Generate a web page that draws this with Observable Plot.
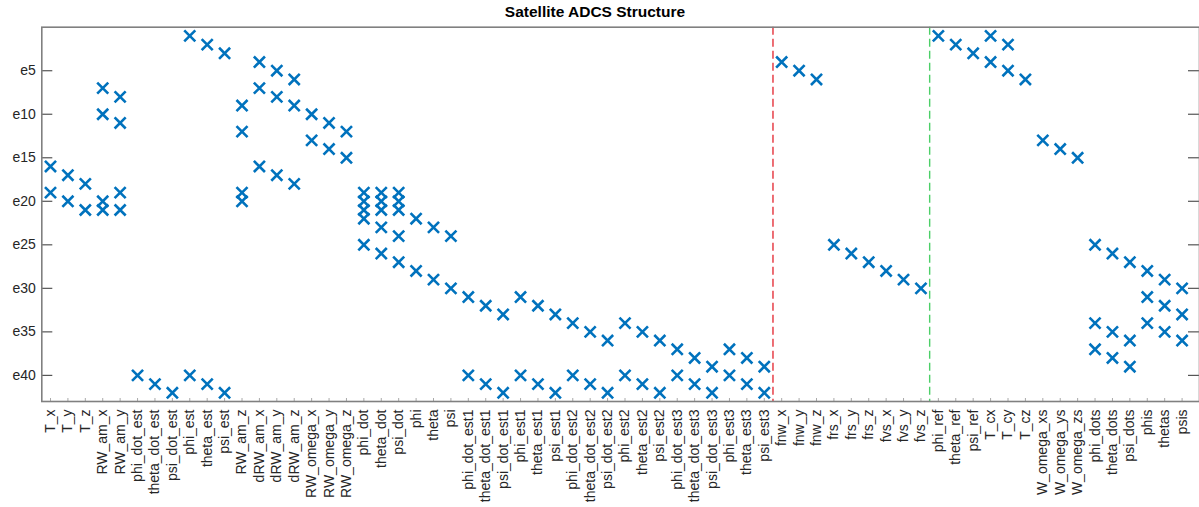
<!DOCTYPE html>
<html><head><meta charset="utf-8">
<script src="https://cdn.jsdelivr.net/npm/d3@7"></script>
<script src="https://cdn.jsdelivr.net/npm/@observablehq/plot@0.6"></script>
<style>
html,body{margin:0;padding:0;background:#fff;}
body{width:1199px;height:507px;overflow:hidden;font-family:"Liberation Sans",Arial,sans-serif;}
#title{width:1190px;height:22px;line-height:24px;font-weight:bold;font-size:15.5px;color:#000;text-align:center;}
#chart svg{display:block;}
</style></head><body>
<div id="title">Satellite ADCS Structure</div>
<div id="chart"></div>
<script>
// variables (columns) of the structural incidence matrix
const variables = ["T_x","T_y","T_z","RW_am_x","RW_am_y","phi_dot_est","theta_dot_est","psi_dot_est","phi_est","theta_est","psi_est","RW_am_z","dRW_am_x","dRW_am_y","dRW_am_z","RW_omega_x","RW_omega_y","RW_omega_z","phi_dot","theta_dot","psi_dot","phi","theta","psi","phi_dot_est1","theta_dot_est1","psi_dot_est1","phi_est1","theta_est1","psi_est1","phi_dot_est2","theta_dot_est2","psi_dot_est2","phi_est2","theta_est2","psi_est2","phi_dot_est3","theta_dot_est3","psi_dot_est3","phi_est3","theta_est3","psi_est3","fnw_x","fnw_y","fnw_z","frs_x","frs_y","frs_z","fvs_x","fvs_y","fvs_z","phi_ref","theta_ref","psi_ref","T_cx","T_cy","T_cz","W_omega_xs","W_omega_ys","W_omega_zs","phi_dots","theta_dots","psi_dots","phis","thetas","psis"];
// equations in which each variable appears (one list per variable)
const equationsByVariable = [
  [16,19],[17,20],[18,21],[7,10,20,21],[8,11,19,21],
  [40],[41],[42],[1,40],[2,41],[3,42],
  [9,12,19,20],[4,7,16],[5,8,17],[6,9,18],
  [10,13],[11,14],[12,15],
  [19,20,21,22,25],[19,20,21,23,26],[19,20,21,24,27],
  [22,28],[23,29],[24,30],
  [31,40],[32,41],[33,42],[31,40],[32,41],[33,42],
  [34,40],[35,41],[36,42],[34,40],[35,41],[36,42],
  [37,40],[38,41],[39,42],[37,40],[38,41],[39,42],
  [4],[5],[6],[25],[26],[27],[28],[29],[30],
  [1],[2],[3],[1,4],[2,5],[6],
  [13],[14],[15],
  [25,34,37],[26,35,38],[27,36,39],[28,31,34],[29,32,35],[30,33,36]
];
// group sizes: unknown, fault, known variables
const groupSizes = [42, 9, 15];
const groupColors = ["#e5323b", "#4ccf68"];
const equationCount = 42;
const yTickValues = [5,10,15,20,25,30,35,40];
const yTickLabels = ["e5","e10","e15","e20","e25","e30","e35","e40"];

const points = [];
equationsByVariable.forEach((eqs, i) => eqs.forEach(e => points.push({col: i + 1, row: e, name: variables[i]})));
const colIdx = d3.range(1, variables.length + 1);
const breaks = [];
let acc = 0;
groupSizes.slice(0, -1).forEach((s, i) => { acc += s; breaks.push({x: acc + 0.5, c: groupColors[i]}); });

const W = 1199, H = 485;
const mL = 41.3, mR = 0, mT = 4.7, mB = 106;
const plotW = W - mL - mR, plotH = H - mT - mB;

const chart = Plot.plot({
  width: W, height: H,
  marginLeft: mL, marginRight: mR, marginTop: mT, marginBottom: mB,
  style: {fontFamily: "'Liberation Sans', Arial, sans-serif", fontSize: "14px", color: "#262626", background: "#fff", overflow: "visible"},
  x: {type: "linear", domain: [0.5, variables.length + 1], axis: null, label: null},
  y: {type: "linear", domain: [0, equationCount + 1], reverse: true, axis: null, label: null},
  marks: [
    Plot.ruleX(breaks, {x: "x", stroke: "c", strokeWidth: 1.4, strokeDasharray: "8,4"}),
    Plot.dot(points, {x: "col", y: "row", symbol: "times", r: 5.1, stroke: "#0072BD", strokeWidth: 2.6}),
    Plot.ruleY(yTickValues, {y: d => d, insetRight: plotW - 11, stroke: "#555", strokeWidth: 1.2}),
    Plot.ruleY(yTickValues, {y: d => d, insetLeft: plotW - 11, stroke: "#555", strokeWidth: 1.2}),
    Plot.ruleX(colIdx, {x: d => d, insetTop: plotH - 3, stroke: "#aaa", strokeWidth: 1}),
    Plot.frame({stroke: "#808080", strokeWidth: 1.6}),
    Plot.axisY(yTickValues, {anchor: "left", label: null, tickSize: 0, tickPadding: 6, tickFormat: d => yTickLabels[yTickValues.indexOf(d)], fontSize: 14}),
    Plot.axisX(colIdx, {anchor: "bottom", label: null, tickSize: 0, tickPadding: 8, tickRotate: -90, textAnchor: "end", lineAnchor: "middle", tickFormat: d => variables[d - 1], fontSize: 14})
  ]
});
document.getElementById("chart").appendChild(chart);
</script>
</body></html>
